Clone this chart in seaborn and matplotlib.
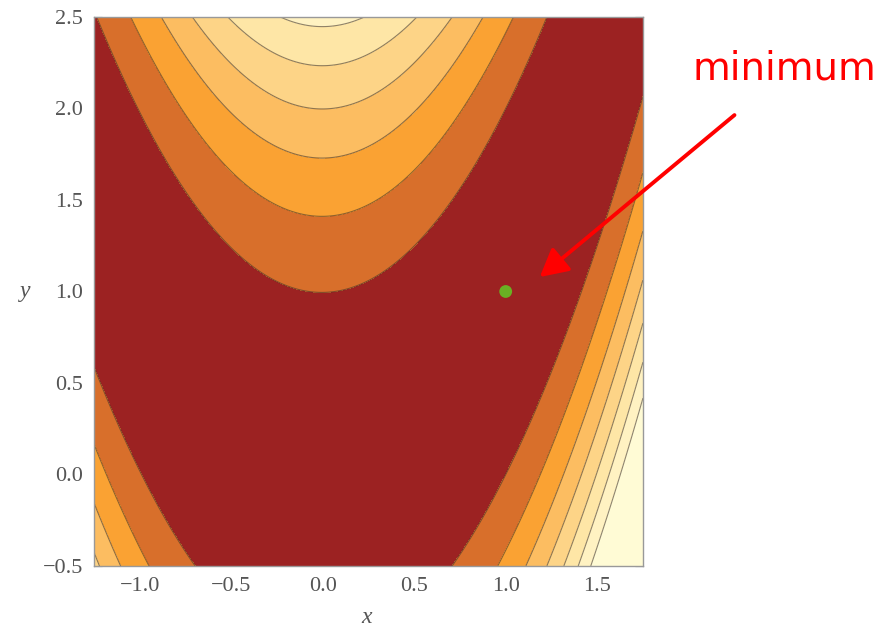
"""Rosenbrock function contour plot with the minimum marked."""

import matplotlib

matplotlib.use("Agg")

import matplotlib.pyplot as plt
import numpy as np
import pandas as pd
import seaborn as sns
from matplotlib.ticker import MultipleLocator

# Rosenbrock parameters: f(x, y) = (a - x)^2 + b (y - x^2)^2
ROSEN_A = 1.0
ROSEN_B = 100.0

x_range = [-1.25, 1.75]
y_range = [-0.5, 2.5]
contour_levels = [0, 100, 200, 300, 400, 500, 600, 700, 1400]
band_colors = ["#9c2222", "#d86f2b", "#faa233", "#fcbd61", "#fdd487", "#fee6a6", "#fff2c2", "#fffbd5"]
minimum_x = [1.0]
minimum_y = [1.0]
x_ticks = [-1.0, -0.5, 0.0, 0.5, 1.0, 1.5]
y_ticks = [-0.5, 0.0, 0.5, 1.0, 1.5, 2.0, 2.5]
note_text = "minimum"

sns.set_theme(style="ticks")
plt.rcParams["font.family"] = ["Liberation Serif", "DejaVu Serif"]

fig = plt.figure(figsize=(8.94, 6.27), dpi=100)
ax = fig.add_axes([0.1051, 0.0973, 0.6141, 0.8756])

xs = np.linspace(x_range[0], x_range[1], 600)
ys = np.linspace(y_range[0], y_range[1], 600)
gx, gy = np.meshgrid(xs, ys)
gz = (ROSEN_A - gx) ** 2 + ROSEN_B * (gy - gx ** 2) ** 2

ax.contourf(gx, gy, gz, levels=contour_levels, colors=band_colors)
ax.contour(gx, gy, gz, levels=contour_levels[1:-1], colors="#45362a", linewidths=0.8, alpha=0.6)

points = pd.DataFrame({"x": minimum_x, "y": minimum_y})
sns.scatterplot(data=points, x="x", y="y", ax=ax, color="#6ab023", s=85, edgecolor="none", zorder=5)

ax.set_xlim(x_range)
ax.set_ylim(y_range)
ax.set_xticks(x_ticks)
ax.set_yticks(y_ticks)
ax.set_xticklabels([f"{v:.1f}".replace("-", "\u2212") for v in x_ticks])
ax.set_yticklabels([f"{v:.1f}".replace("-", "\u2212") for v in y_ticks])
ax.xaxis.set_minor_locator(MultipleLocator(0.1))
ax.yaxis.set_minor_locator(MultipleLocator(0.1))
ax.tick_params(which="both", direction="in", top=True, right=True, color="#555555", width=0.8)
ax.tick_params(which="major", length=6, labelsize=16, labelcolor="#555555", pad=8)
ax.tick_params(which="minor", length=3.5)
for spine in ax.spines.values():
    spine.set_color("#999999")
    spine.set_linewidth(1.0)

ax.set_xlabel("x", style="italic", fontsize=17, color="#555555", va="center", ha="center")
ax.set_ylabel("y", style="italic", fontsize=17, color="#555555", rotation=0, va="center", ha="center")
ax.xaxis.set_label_coords(0.497, -0.094)
ax.yaxis.set_label_coords(-0.126, 0.5)

# annotation: red arrow pointing at the minimum, label outside the plot
ax.annotate(
    "",
    xy=(1.186, 1.079),
    xytext=(2.25, 1.964),
    annotation_clip=False,
    arrowprops=dict(arrowstyle="-|>,head_length=1.4,head_width=0.75", color="red", lw=2.8, shrinkA=0, shrinkB=0),
)
ax.text(2.52, 2.22, note_text, color="red", fontsize=28, family=["DejaVu Sans"], ha="center", va="center", clip_on=False)

fig.savefig("out.png", dpi=100)
plt.close(fig)
